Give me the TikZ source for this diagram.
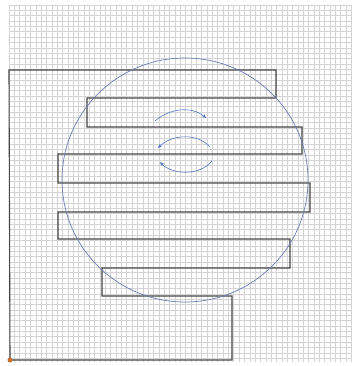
\documentclass[tikz,border=0pt]{standalone}
\usepackage{xcolor}
\usetikzlibrary{arrows.meta,calc}
\definecolor{gridgray}{RGB}{212,212,212}
\definecolor{pathgray}{RGB}{70,70,70}
\definecolor{ringblue}{RGB}{110,125,180}
\definecolor{spinblue}{RGB}{80,120,200}
\definecolor{startdot}{RGB}{200,110,40}

\begin{document}
\begin{tikzpicture}[x=1pt,y=-1pt,
  gridline/.style={draw=gridgray,line width=0.5pt},
  sweep/.style={draw=pathgray,line width=1.1pt,line join=miter},
  ring/.style={draw=ringblue,line width=0.7pt},
  spin/.style={draw=spinblue,line width=0.6pt,-{Stealth[length=4pt,width=3.5pt]}}]
\useasboundingbox (0,0) rectangle (352,366);
\fill[white] (0,0) rectangle (352,366);
% background grid
\foreach \gx in {0,...,64}
  \draw[gridline] (9+\gx*5.35,5) -- (9+\gx*5.35,362);
\foreach \gy in {0,...,66}
  \draw[gridline] (9,5+\gy*5.35) -- (352,5+\gy*5.35);
% boustrophedon sweep
\coordinate (s0) at (10,360);
\draw[sweep] (s0) -- (9,70) -- (276,70) -- (276,98) -- (87,98) -- (87,127)
  -- (302,127) -- (302,154) -- (58,154) -- (58,183) -- (310,183) -- (310,212)
  -- (58,212) -- (58,239) -- (290,239) -- (290,268) -- (102,268) -- (102,296)
  -- (232,296) -- (232,360) -- cycle;
% disc
\coordinate (c) at (185,180);
\draw[ring] (c) ellipse [x radius=123, y radius=122];
% rotation arrows
\coordinate (r1a) at (155,121); \coordinate (r1b) at (206,118);
\coordinate (r2a) at (210,147); \coordinate (r2b) at (158,148);
\coordinate (r3a) at (212,161); \coordinate (r3b) at (160,162);
\draw[spin] (r1a) .. controls (170,108) and (192,106) .. (r1b);
\draw[spin] (r2a) .. controls (198,133) and (172,134) .. (r2b);
\draw[spin] (r3a) .. controls (200,176) and (172,175) .. (r3b);
% start point
\fill[startdot] (s0) circle (2.5);
\end{tikzpicture}
\end{document}
